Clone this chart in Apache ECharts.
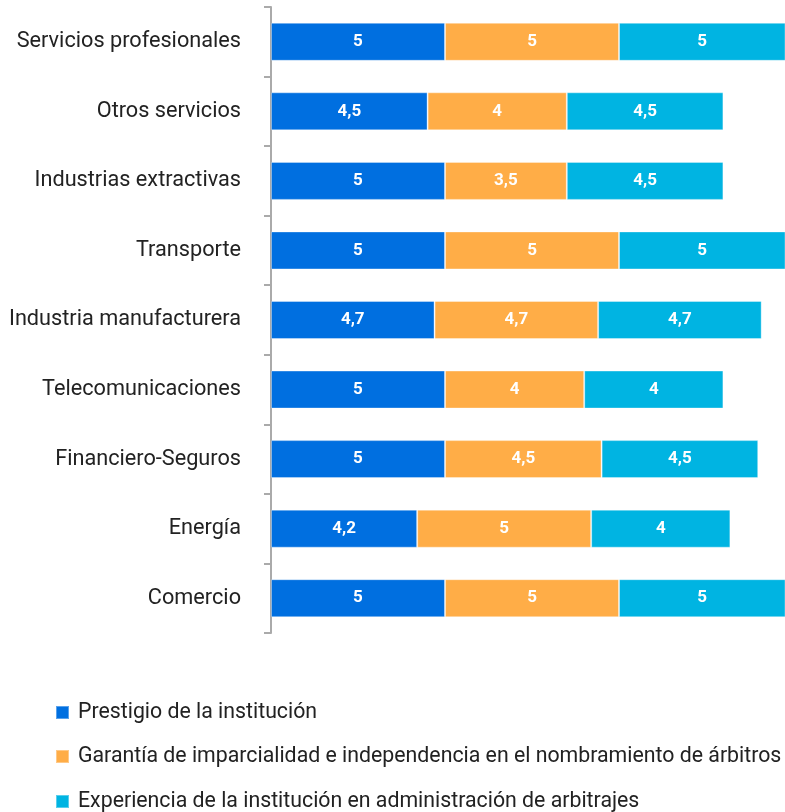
<!DOCTYPE html>
<html>
<head>
<meta charset="utf-8">
<script src="https://cdn.jsdelivr.net/npm/echarts@6/dist/echarts.min.js"></script>
<style>
  html, body { margin: 0; padding: 0; background: #fff; }
  #chart { width: 785px; height: 812px; }
</style>
</head>
<body>
<div id="chart"></div>
<script>
const sectors = [
    'Servicios profesionales', 'Otros servicios', 'Industrias extractivas', 'Transporte',
    'Industria manufacturera', 'Telecomunicaciones', 'Financiero-Seguros', 'Energía', 'Comercio'
];
const prestigio = [5, 4.5, 5, 5, 4.7, 5, 5, 4.2, 5];
const garantia = [5, 4, 3.5, 5, 4.7, 4, 4.5, 5, 5];
const experiencia = [5, 4.5, 4.5, 5, 4.7, 4, 4.5, 4, 5];

const seriesInfo = [
    {name: 'Prestigio de la institución', color: '#006FE0', data: prestigio},
    {name: 'Garantía de imparcialidad e independencia en el nombramiento de árbitros', color: '#FFAD47', data: garantia},
    {name: 'Experiencia de la institución en administración de arbitrajes', color: '#00B4E2', data: experiencia},
];

const legendTops = [697, 741, 786];

const chart = echarts.init(document.getElementById('chart'));
chart.setOption({
    animation: false,
    textStyle: {fontFamily: 'Roboto'},
    grid: {left: 271, top: 7, height: 626, right: 0},
    // una leyenda por fila para que no se parta en columnas
    legend: seriesInfo.map((s, i) => ({
        orient: 'vertical',
        left: 50,
        top: legendTops[i],
        itemWidth: 13,
        itemHeight: 13,
        icon: 'rect',
        textStyle: {color: '#222', fontSize: 21.3, fontFamily: 'Roboto', padding: [0, 0, 0, 4]},
        data: [s.name],
    })),
    xAxis: {
        type: 'value',
        min: 0,
        max: 14.77,
        show: false,
    },
    yAxis: {
        type: 'category',
        inverse: true,
        data: sectors,
        axisLine: {lineStyle: {color: '#AAAAAA', width: 2}},
        axisTick: {show: true, length: 7, lineStyle: {color: '#AAAAAA', width: 2}},
        axisLabel: {color: '#222', fontSize: 21.7, fontFamily: 'Roboto', margin: 30},
    },
    series: seriesInfo.map(s => ({
        name: s.name,
        type: 'bar',
        stack: 'total',
        barWidth: 38,
        data: s.data,
        itemStyle: {color: s.color, borderColor: 'rgba(255,255,255,0.35)', borderWidth: 1},
        label: {
            show: true,
            position: 'inside',
            color: '#fff',
            fontSize: 17,
            fontWeight: 'bold',
            fontFamily: 'Roboto',
            formatter: p => String(p.value).replace('.', ','),
        },
    })),
});
</script>
</body>
</html>
